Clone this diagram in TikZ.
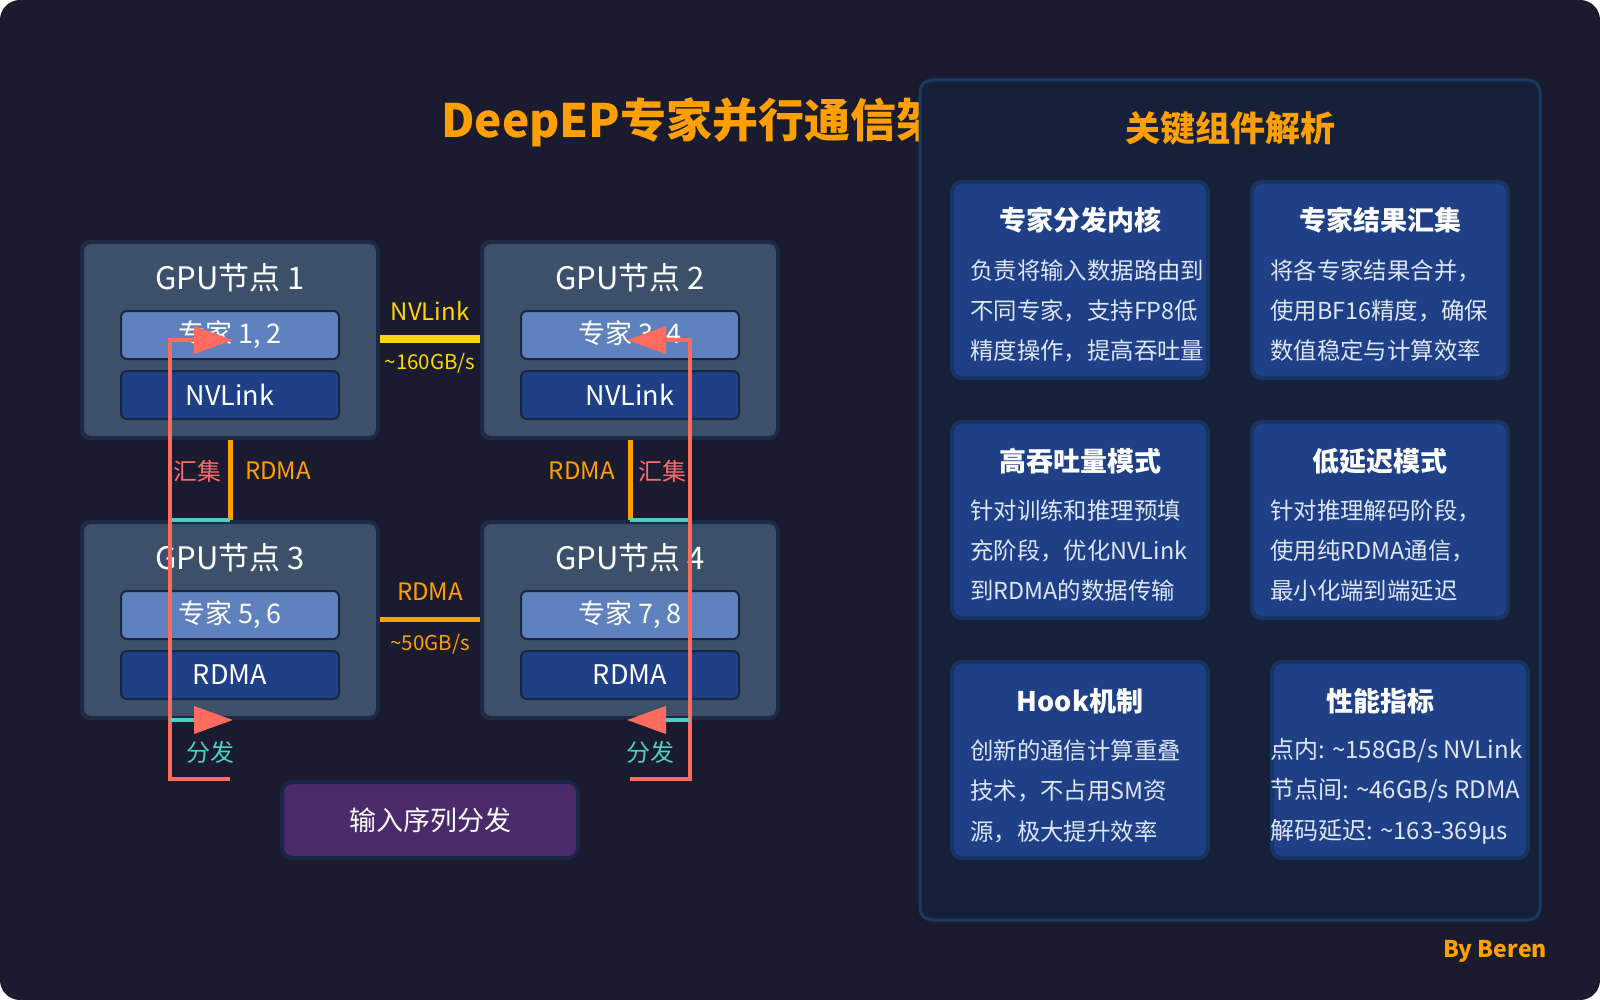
\documentclass[tikz,border=0pt]{standalone}
\usepackage{fontspec}
\setmainfont{Noto Sans CJK SC}
\usetikzlibrary{arrows.meta}
\definecolor{bg}{HTML}{1A1B2E}
\definecolor{gpufill}{HTML}{3D506A}
\definecolor{gpuborder}{HTML}{1E2A45}
\definecolor{expfill}{HTML}{5F82BE}
\definecolor{linkfill}{HTML}{1F3F87}
\definecolor{innerborder}{HTML}{1B2440}
\definecolor{coral}{HTML}{FF6B5E}
\definecolor{tealc}{HTML}{4ECDC4}
\definecolor{orangec}{HTML}{FF9F00}
\definecolor{yellowc}{HTML}{FFD700}
\definecolor{huiji}{HTML}{FF6B6B}
\definecolor{purplefill}{HTML}{4A2A6B}
\definecolor{purpleborder}{HTML}{1B2545}
\definecolor{panelfill}{HTML}{172039}
\definecolor{panelborder}{HTML}{1A3A66}
\definecolor{cardfill}{HTML}{1F4086}
\definecolor{cardborder}{HTML}{163565}
\definecolor{bodytext}{HTML}{DCE6F5}
\newcommand\fsz[1]{\fontsize{#1}{#1}\selectfont}
\begin{document}
\begin{tikzpicture}[x=1pt,y=-1pt,
  gpubox/.style={draw=gpuborder, line width=4pt, fill=gpufill, rounded corners=9pt, minimum width=296pt, minimum height=196pt, inner sep=0pt},
  expbox/.style={draw=innerborder, line width=2pt, fill=expfill, rounded corners=6pt, minimum width=218pt, minimum height=48pt, inner sep=0pt, text=white, font=\fsz{27}},
  linkbox/.style={expbox, fill=linkfill},
  gputitle/.style={text=white, font=\fsz{31}, inner sep=0pt},
  lbl/.style={font=\fsz{24}, inner sep=0pt},
  redline/.style={draw=coral, line width=4pt},
  tealline/.style={draw=tealc, line width=4pt},
  orangeline/.style={draw=orangec, line width=5pt},
  bigtip/.style={-{Triangle[length=39pt,width=27pt,color=coral]}},
  card/.style={draw=cardborder, line width=4pt, fill=cardfill, rounded corners=10pt, minimum width=256pt, minimum height=196pt, inner sep=0pt},
  cardtitle/.style={text=white, font=\bfseries\fsz{27}, inner sep=0pt},
  body/.style={text=bodytext, font=\fsz{23.4}, inner sep=0pt, anchor=west},
]
\useasboundingbox (0,0) rectangle (1600,1000);
\fill[white] (0,0) rectangle (1600,1000);
\fill[bg, rounded corners=20pt] (0,0) rectangle (1600,1000);

% main title (partly hidden by the panel)
\node[text=orangec, font=\bfseries\fsz{46}, inner sep=0pt, anchor=west] (title) at (441,122) {DeepEP专家并行通信架构};

% GPU nodes
\node[gpubox] (g1) at (230,340) {};
\node[gpubox] (g2) at (630,340) {};
\node[gpubox] (g3) at (230,620) {};
\node[gpubox] (g4) at (630,620) {};

\node[gputitle] (g1t) at (230,278) {GPU节点 1};
\node[gputitle] (g2t) at (630,278) {GPU节点 2};
\node[gputitle] (g3t) at (230,558) {GPU节点 3};
\node[gputitle] (g4t) at (630,558) {GPU节点 4};

\node[expbox] (e1) at (230,335) {专家 1, 2};
\node[expbox] (e2) at (630,335) {专家 3, 4};
\node[expbox] (e3) at (230,615) {专家 5, 6};
\node[expbox] (e4) at (630,615) {专家 7, 8};

\node[linkbox] (l1) at (230,395) {NVLink};
\node[linkbox] (l2) at (630,395) {NVLink};
\node[linkbox] (l3) at (230,675) {RDMA};
\node[linkbox] (l4) at (630,675) {RDMA};

% horizontal links
\draw[yellowc, line width=8pt] (g1.east |- 0,339) -- (g2.west |- 0,339);
\node[lbl, text=yellowc] (nvl) at (430,311) {NVLink};
\node[lbl, text=yellowc, font=\fsz{20.5}] (nvbw) at (430,363) {\textasciitilde160GB/s};
\draw[orangec, line width=5pt] (g3.east |- 0,619) -- (g4.west |- 0,619);
\node[lbl, text=orangec] (rdl) at (430,592) {RDMA};
\node[lbl, text=orangec, font=\fsz{20.5}] (rdbw) at (430,644) {\textasciitilde50GB/s};

% vertical RDMA links
\coordinate (v1a) at (230,440); \coordinate (v1b) at (230,520);
\coordinate (v2a) at (630,440); \coordinate (v2b) at (630,520);
\draw[orangeline] (v1a) -- (v1b);
\draw[orangeline] (v2a) -- (v2b);
\node[lbl, text=huiji, anchor=east] (hj1) at (222,471) {汇集};
\node[lbl, text=orangec, anchor=west] (rd1) at (245,471) {RDMA};
\node[lbl, text=orangec, anchor=east] (rd2) at (615,471) {RDMA};
\node[lbl, text=huiji, anchor=west] (hj2) at (638,471) {汇集};

% teal segments
\coordinate (t1a) at (172,520); \coordinate (t1b) at (230,520);
\coordinate (t2a) at (630,520); \coordinate (t2b) at (688,520);
\draw[tealline] (t1a) -- (t1b);
\draw[tealline] (t2a) -- (t2b);

% gather paths (red)
\coordinate (ra1) at (230,779); \coordinate (ra2) at (170,779);
\coordinate (ra3) at (170,340); \coordinate (ra4) at (233,340);
\draw[redline, bigtip] (ra1) -- (ra2) -- (ra3) -- (ra4);
\coordinate (rb1) at (630,779); \coordinate (rb2) at (690,779);
\coordinate (rb3) at (690,340); \coordinate (rb4) at (627,340);
\draw[redline, bigtip] (rb1) -- (rb2) -- (rb3) -- (rb4);

% dispatch arrows
\coordinate (d1a) at (170,720); \coordinate (d1b) at (233,720);
\coordinate (d2a) at (690,720); \coordinate (d2b) at (627,720);
\draw[tealline, bigtip] (d1a) -- (d1b);
\draw[tealline, bigtip] (d2a) -- (d2b);
\node[lbl, text=tealc] (fa1) at (210,752) {分发};
\node[lbl, text=tealc] (fa2) at (650,752) {分发};

% input box
\node[draw=purpleborder, line width=4pt, fill=purplefill, rounded corners=10pt, minimum width=296pt, minimum height=76pt, inner sep=0pt, text=white, font=\fsz{27}] (inp) at (430,820) {输入序列分发};

% right panel
\node[draw=panelborder, line width=3pt, fill=panelfill, rounded corners=12pt, minimum width=620pt, minimum height=840pt, inner sep=0pt] (panel) at (1230,500) {};
\node[text=orangec, font=\bfseries\fsz{35}, inner sep=0pt] (ptitle) at (1230,128) {关键组件解析};

\node[card] (c1) at (1080,280) {};
\node[card] (c2) at (1380,280) {};
\node[card] (c3) at (1080,520) {};
\node[card] (c4) at (1380,520) {};
\node[card] (c5) at (1080,760) {};
\node[card] (c6) at (1400,760) {};

\node[cardtitle] (c1t) at (1080,220) {专家分发内核};
\node[cardtitle] (c2t) at (1380,220) {专家结果汇集};
\node[cardtitle] (c3t) at (1080,461) {高吞吐量模式};
\node[cardtitle] (c4t) at (1380,461) {低延迟模式};
\node[cardtitle] (c5t) at (1080,701) {Hook机制};
\node[cardtitle] (c6t) at (1380,701) {性能指标};

\node[body] (c1a) at (970,271) {负责将输入数据路由到};
\node[body] (c1b) at (970,311) {不同专家，支持FP8低};
\node[body] (c1c) at (970,351) {精度操作，提高吞吐量};

\node[body] (c2a) at (1270,271) {将各专家结果合并，};
\node[body] (c2b) at (1270,311) {使用BF16精度，确保};
\node[body] (c2c) at (1270,351) {数值稳定与计算效率};

\node[body] (c3a) at (970,511) {针对训练和推理预填};
\node[body] (c3b) at (970,551) {充阶段，优化NVLink};
\node[body] (c3c) at (970,591) {到RDMA的数据传输};

\node[body] (c4a) at (1270,511) {针对推理解码阶段，};
\node[body] (c4b) at (1270,551) {使用纯RDMA通信，};
\node[body] (c4c) at (1270,591) {最小化端到端延迟};

\node[body] (c5a) at (970,751) {创新的通信计算重叠};
\node[body] (c5b) at (970,791) {技术，不占用SM资};
\node[body] (c5c) at (970,832) {源，极大提升效率};

\node[body, font=\fsz{24}] (c6a) at (1270,751) {点内: \textasciitilde158GB/s NVLink};
\node[body, font=\fsz{24}] (c6b) at (1270,791) {节点间: \textasciitilde46GB/s RDMA};
\node[body, font=\fsz{24}] (c6c) at (1270,832) {解码延迟: \textasciitilde163-369µs};

\node[text=orangec, font=\bfseries\fsz{23}, inner sep=0pt, anchor=east] (by) at (1547,951) {By Beren};
\end{tikzpicture}
\end{document}
